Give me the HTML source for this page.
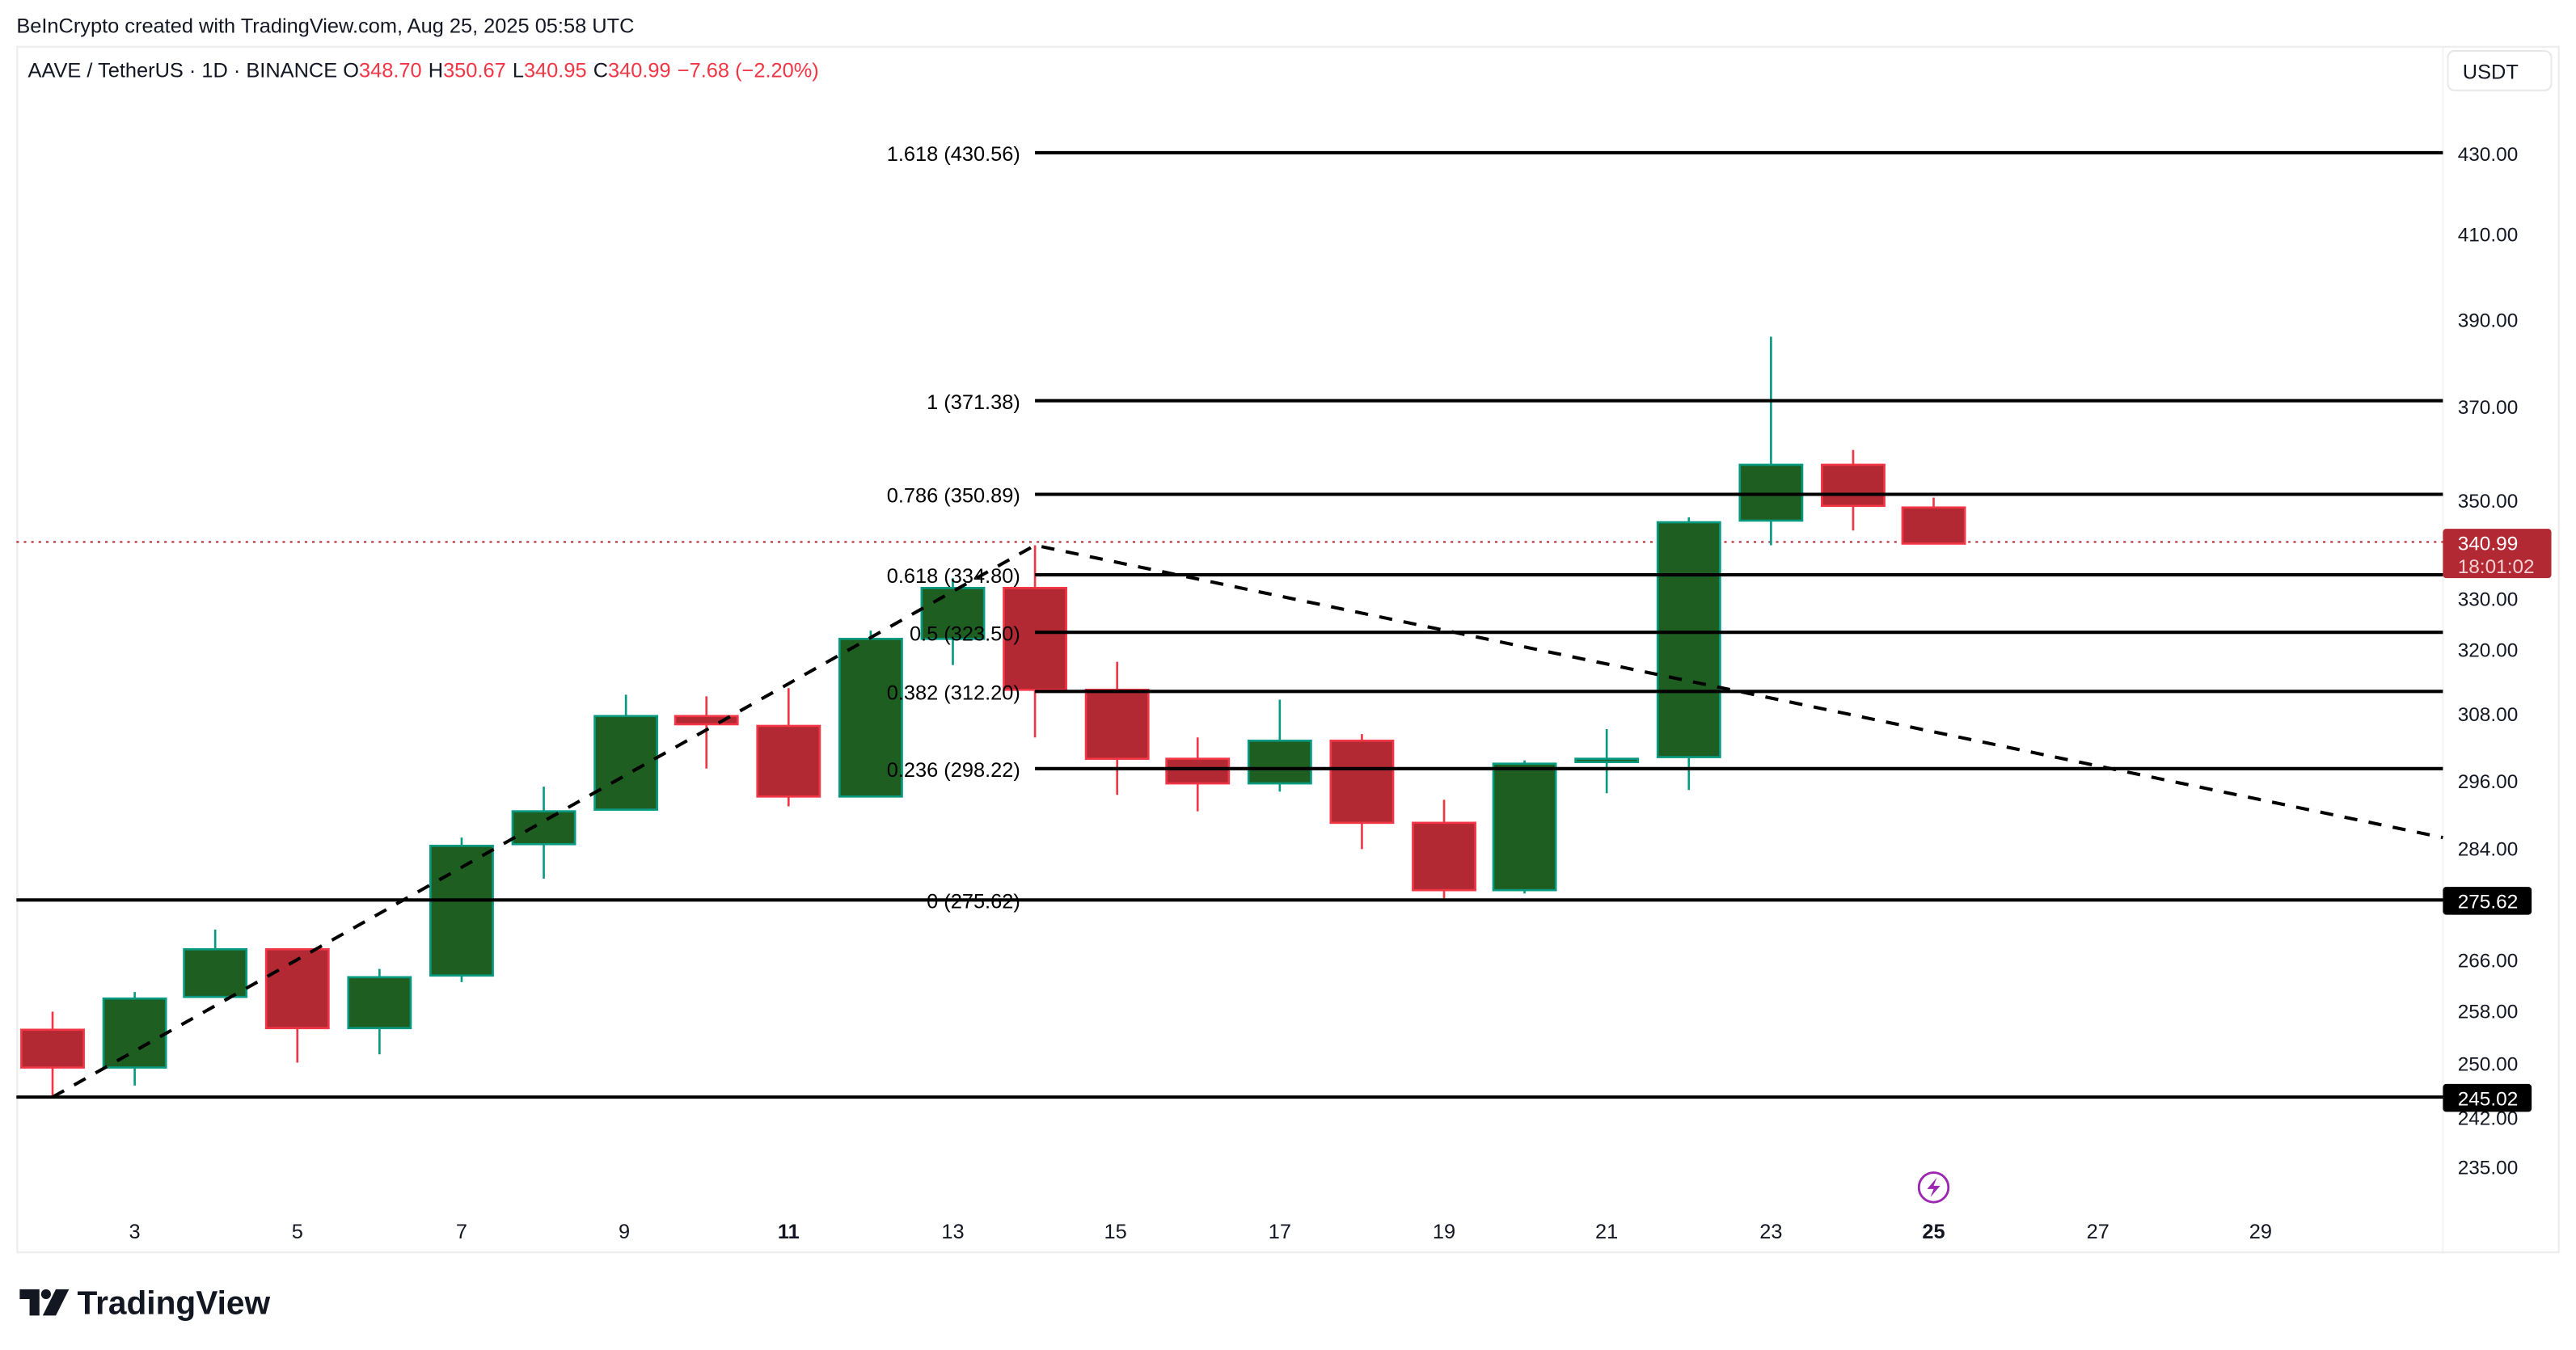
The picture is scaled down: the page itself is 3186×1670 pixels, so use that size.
<!DOCTYPE html>
<html><head><meta charset="utf-8"><style>
html,body{margin:0;padding:0;background:#fff;}
svg{display:block;}
text{font-family:"Liberation Sans",sans-serif;}
</style></head><body>
<svg width="3186" height="1670" viewBox="0 0 1568 822" preserveAspectRatio="none" xmlns="http://www.w3.org/2000/svg">
<rect x="0" y="0" width="1568" height="822" fill="#fff"/>
<text x="10" y="20" font-size="12.5" fill="#131722">BeInCrypto created with TradingView.com, Aug 25, 2025 05:58 UTC</text>
<rect x="10.5" y="28.5" width="1547" height="734" fill="#fff" stroke="#eeeeee" stroke-width="1.2"/>
<line x1="1487" y1="29" x2="1487" y2="762" stroke="#f3f3f3" stroke-width="1"/>
<text x="17" y="47" font-size="12.5" fill="#131722">AAVE / TetherUS · 1D · BINANCE  <tspan>O</tspan><tspan fill="#f23645">348.70</tspan><tspan dx="4">H</tspan><tspan fill="#f23645">350.67</tspan><tspan dx="4">L</tspan><tspan fill="#f23645">340.95</tspan><tspan dx="4">C</tspan><tspan fill="#f23645">340.99</tspan><tspan dx="4" fill="#f23645">−7.68 (−2.20%)</tspan></text>
<rect x="1490" y="31" width="63" height="24" rx="4" fill="#fff" stroke="#e8e8e8"/>
<text x="1516" y="48" font-size="12.5" text-anchor="middle" fill="#131722">USDT</text>
<!-- price axis labels -->
<g font-size="12" fill="#131722" text-anchor="start">
<text x="1496" y="98">430.00</text><text x="1496" y="147">410.00</text><text x="1496" y="199">390.00</text>
<text x="1496" y="252">370.00</text><text x="1496" y="309">350.00</text><text x="1496" y="369">330.00</text>
<text x="1496" y="400">320.00</text><text x="1496" y="439">308.00</text><text x="1496" y="480">296.00</text>
<text x="1496" y="521">284.00</text><text x="1496" y="557">274.00</text><text x="1496" y="589">266.00</text><text x="1496" y="620">258.00</text>
<text x="1496" y="652">250.00</text><text x="1496" y="685">242.00</text><text x="1496" y="715">235.00</text>
</g>
<!-- time axis -->
<g font-size="12.5" fill="#131722" text-anchor="middle">
<text x="82" y="754">3</text><text x="181" y="754">5</text><text x="281" y="754">7</text><text x="380" y="754">9</text>
<text x="480" y="754" font-weight="bold">11</text><text x="580" y="754">13</text><text x="679" y="754">15</text>
<text x="779" y="754">17</text><text x="879" y="754">19</text><text x="978" y="754">21</text><text x="1078" y="754">23</text>
<text x="1177" y="754" font-weight="bold">25</text><text x="1277" y="754">27</text><text x="1376" y="754">29</text>
</g>
<!-- dotted current price -->
<line x1="10" y1="330" x2="1487" y2="330" stroke="#b22833" stroke-width="1" stroke-dasharray="1.5,3"/>
<!-- candles -->
<g stroke-width="1.3">
<g stroke="#f23645" fill="#b22833">
<line x1="32" y1="616" x2="32" y2="668"/><rect x="13" y="627" width="38" height="23"/>
<line x1="181" y1="578" x2="181" y2="647"/><rect x="162" y="578" width="38" height="48"/>
<line x1="430" y1="424" x2="430" y2="468"/><rect x="411" y="436" width="38" height="5"/>
<line x1="480" y1="419" x2="480" y2="491"/><rect x="461" y="442" width="38" height="43"/>
<line x1="630" y1="332" x2="630" y2="449"/><rect x="611" y="358" width="38" height="62"/>
<line x1="680" y1="403" x2="680" y2="484"/><rect x="661" y="420" width="38" height="42"/>
<line x1="729" y1="449" x2="729" y2="494"/><rect x="710" y="462" width="38" height="15"/>
<line x1="829" y1="447" x2="829" y2="517"/><rect x="810" y="451" width="38" height="50"/>
<line x1="879" y1="487" x2="879" y2="547"/><rect x="860" y="501" width="38" height="41"/>
<line x1="1128" y1="274" x2="1128" y2="323"/><rect x="1109" y="283" width="38" height="25"/>
<line x1="1177" y1="303" x2="1177" y2="331"/><rect x="1158" y="309" width="38" height="22"/>
</g>
<g stroke="#089981" fill="#1e5e20">
<line x1="82" y1="604" x2="82" y2="661"/><rect x="63" y="608" width="38" height="42"/>
<line x1="131" y1="566" x2="131" y2="607"/><rect x="112" y="578" width="38" height="29"/>
<line x1="231" y1="590" x2="231" y2="642"/><rect x="212" y="595" width="38" height="31"/>
<line x1="281" y1="510" x2="281" y2="598"/><rect x="262" y="515" width="38" height="79"/>
<line x1="331" y1="479" x2="331" y2="535"/><rect x="312" y="494" width="38" height="20"/>
<line x1="381" y1="423" x2="381" y2="493"/><rect x="362" y="436" width="38" height="57"/>
<line x1="530" y1="384" x2="530" y2="485"/><rect x="511" y="389" width="38" height="96"/>
<line x1="580" y1="352" x2="580" y2="405"/><rect x="561" y="358" width="38" height="31"/>
<line x1="779" y1="426" x2="779" y2="482"/><rect x="760" y="451" width="38" height="26"/>
<line x1="928" y1="463" x2="928" y2="544"/><rect x="909" y="465" width="38" height="77"/>
<line x1="978" y1="444" x2="978" y2="483"/><rect x="959" y="462" width="38" height="2"/>
<line x1="1028" y1="315" x2="1028" y2="481"/><rect x="1009" y="318" width="38" height="143"/>
<line x1="1078" y1="205" x2="1078" y2="332"/><rect x="1059" y="283" width="38" height="34"/>
</g>
</g>
<!-- fib lines -->
<g stroke="#000" stroke-width="2">
<line x1="630" y1="93" x2="1487" y2="93"/>
<line x1="630" y1="244" x2="1487" y2="244"/>
<line x1="630" y1="301" x2="1487" y2="301"/>
<line x1="630" y1="350" x2="1487" y2="350"/>
<line x1="630" y1="385" x2="1487" y2="385"/>
<line x1="630" y1="421" x2="1487" y2="421"/>
<line x1="630" y1="468" x2="1487" y2="468"/>
<line x1="10" y1="548" x2="1487" y2="548"/>
<line x1="10" y1="668" x2="1487" y2="668"/>
</g>
<g font-size="12.5" fill="#000" text-anchor="end">
<text x="621" y="98">1.618 (430.56)</text>
<text x="621" y="249">1 (371.38)</text>
<text x="621" y="306">0.786 (350.89)</text>
<text x="621" y="355">0.618 (334.80)</text>
<text x="621" y="390">0.5 (323.50)</text>
<text x="621" y="426">0.382 (312.20)</text>
<text x="621" y="473">0.236 (298.22)</text>
<text x="621" y="553">0 (275.62)</text>
</g>
<!-- dashed trend lines -->
<g stroke="#000" stroke-width="2" stroke-dasharray="8,7" fill="none">
<polyline points="32,668 630,332 1487,510"/>
</g>
<!-- price tags -->
<rect x="1487" y="322" width="66" height="30" rx="2" fill="#b22833"/>
<text x="1496" y="335" font-size="12" fill="#fff">340.99</text>
<text x="1496" y="349" font-size="12" fill="#f3d0d3">18:01:02</text>
<rect x="1487" y="540" width="54" height="17" rx="2" fill="#000"/>
<text x="1496" y="553" font-size="12" fill="#fff">275.62</text>
<rect x="1487" y="660" width="54" height="17" rx="2" fill="#000"/>
<text x="1496" y="673" font-size="12" fill="#fff">245.02</text>
<!-- lightning -->
<circle cx="1177" cy="723" r="9" fill="#fff" stroke="#9c27b0" stroke-width="1.4"/>
<path d="M1179,717 L1173,724 L1177,724 L1175,729 L1181,722 L1177,722 Z" fill="#9c27b0"/>
<!-- TradingView logo -->
<g fill="#131722">
<path d="M12,785 h12 v16 h-6 v-10 h-6 z"/>
<circle cx="28" cy="788" r="3"/>
<path d="M34,785 h8 l-8,16 h-8 z"/>
</g>
<text x="47" y="800" font-size="20" font-weight="bold" fill="#131722">TradingView</text>
</svg>
</body></html>
